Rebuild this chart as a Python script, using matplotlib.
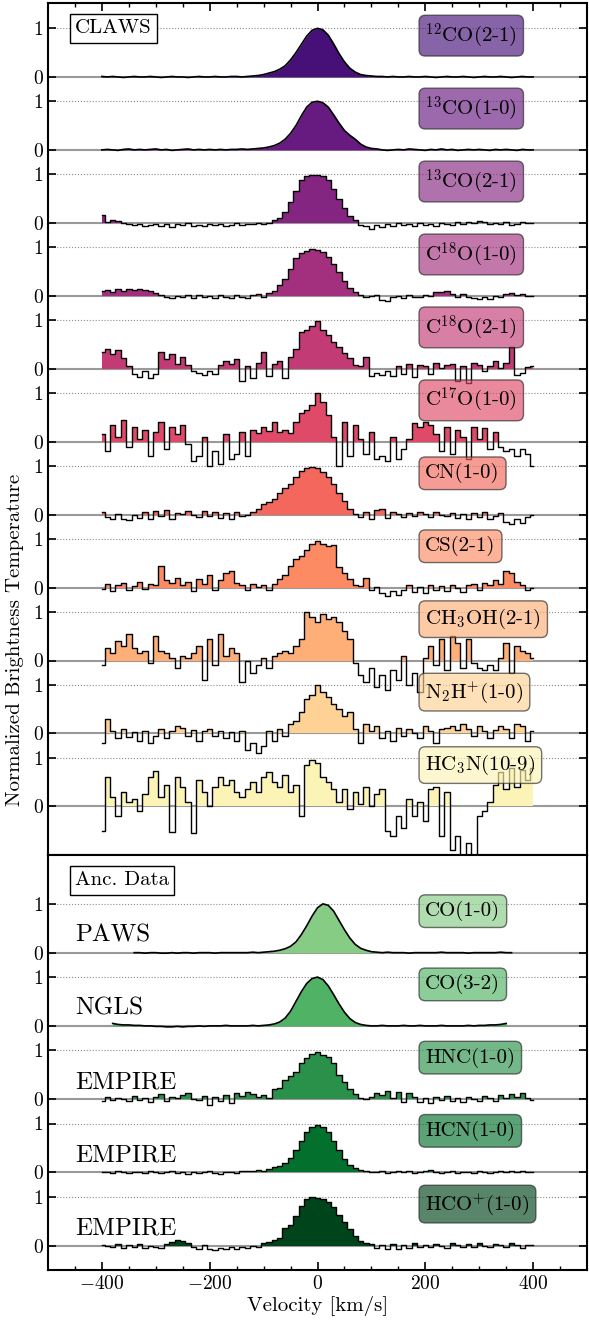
import numpy as np
import matplotlib
matplotlib.use('Agg')
import matplotlib.pyplot as plt

plt.rcParams['font.family'] = 'serif'
plt.rcParams['font.serif'] = ['cmr10']
plt.rcParams['mathtext.fontset'] = 'cm'
plt.rcParams['axes.formatter.use_mathtext'] = True

# ---- data (normalized brightness, 10 km/s channels) ----
vel = np.arange(-400, 401, 10)
vel_paws = np.arange(-340, 361, 10)
vel_ngls = np.arange(-380, 351, 10)

co12_21 = [0.01, 0.00, 0.01, 0.00, -0.01, 0.00, 0.01, 0.00, 0.00, 0.01,
           0.00, -0.01, 0.00, 0.01, 0.00, 0.00, -0.01, 0.00, 0.01, 0.00,
           0.00, 0.01, 0.00, 0.00, 0.01, 0.01, 0.00, 0.01, 0.02, 0.03,
           0.05, 0.08, 0.11, 0.16, 0.23, 0.35, 0.50, 0.67, 0.84, 0.96,
           1.00, 0.97, 0.86, 0.68, 0.48, 0.31, 0.18, 0.10, 0.05, 0.03,
           0.02, 0.01, 0.01, 0.00, 0.01, 0.00, 0.00, 0.01, 0.00, 0.00,
           0.01, 0.00, -0.01, 0.00, 0.01, 0.00, 0.00, 0.01, 0.00, -0.01,
           0.00, 0.01, 0.00, 0.00, 0.01, 0.00, -0.01, 0.00, 0.01, 0.00,
           0.00]
co13_10 = [0.00, 0.01, 0.00, -0.01, 0.01, 0.02, 0.00, 0.01, 0.00, 0.01,
           0.02, 0.00, 0.01, -0.01, 0.00, 0.01, 0.02, 0.00, 0.01, 0.00,
           0.01, 0.00, 0.01, 0.00, 0.01, 0.01, 0.02, 0.01, 0.02, 0.03,
           0.04, 0.06, 0.09, 0.14, 0.22, 0.34, 0.50, 0.70, 0.88, 0.98,
           1.00, 0.97, 0.88, 0.72, 0.55, 0.40, 0.30, 0.22, 0.12, 0.06,
           0.03, 0.02, 0.00, -0.01, 0.00, 0.01, 0.00, 0.02, 0.01, 0.00,
           -0.01, 0.01, 0.00, 0.02, 0.00, 0.01, -0.01, 0.00, 0.01, 0.00,
           0.01, 0.00, -0.01, 0.01, 0.00, 0.01, 0.00, -0.01, 0.01, 0.00,
           0.00]
co13_21 = [0.17, 0.02, 0.06, 0.04, 0.00, -0.02, -0.05, -0.03, -0.07, -0.04,
           -0.02, -0.06, -0.03, -0.08, -0.02, -0.05, -0.01, -0.06, -0.04, -0.07,
           -0.03, -0.05, -0.02, -0.06, -0.04, -0.01, -0.04, -0.02, -0.03, 0.00,
           -0.02, -0.01, 0.05, 0.10, 0.22, 0.42, 0.65, 0.88, 0.97, 0.99,
           0.98, 0.97, 0.88, 0.70, 0.50, 0.30, 0.14, 0.05, -0.04, -0.07,
           -0.12, -0.05, -0.08, -0.02, -0.06, -0.01, -0.05, -0.03, -0.07, 0.00,
           -0.04, -0.02, -0.06, -0.01, -0.03, -0.05, 0.01, -0.02, 0.02, -0.01,
           0.03, 0.01, -0.02, 0.00, -0.03, 0.01, -0.04, -0.02, 0.02, -0.01,
           0.00]
c18o_10 = [0.10, 0.12, 0.08, 0.13, 0.10, 0.15, 0.11, 0.14, 0.12, 0.09,
           0.06, 0.02, -0.02, -0.04, 0.00, -0.03, 0.02, -0.05, 0.01, -0.02,
           0.00, -0.04, 0.02, -0.03, -0.05, 0.01, -0.02, -0.04, 0.02, 0.04,
           -0.03, 0.06, 0.10, 0.22, 0.35, 0.55, 0.78, 0.88, 0.92, 0.97,
           0.95, 0.90, 0.80, 0.66, 0.48, 0.30, 0.16, 0.08, 0.02, -0.03,
           -0.01, 0.02, -0.08, -0.10, -0.03, 0.00, -0.04, 0.01, -0.02, -0.03,
           0.02, 0.00, 0.08, 0.07, 0.09, 0.03, -0.02, 0.04, -0.03, -0.05,
           -0.06, -0.03, -0.07, 0.00, -0.02, 0.03, 0.05, 0.01, 0.03, -0.01,
           0.00]
c18o_21 = [0.35, 0.40, 0.30, 0.38, 0.22, 0.05, -0.10, -0.18, -0.05, -0.20,
           -0.10, 0.35, 0.20, 0.30, 0.10, 0.25, 0.08, -0.05, -0.08, -0.12,
           -0.05, -0.10, 0.08, 0.15, 0.10, 0.20, -0.25, 0.05, -0.20, 0.12,
           0.35, -0.15, 0.10, 0.15, -0.20, 0.25, 0.40, 0.75, 0.80, 0.88,
           0.98, 0.80, 0.70, 0.55, 0.45, 0.32, 0.22, 0.08, 0.05, 0.25,
           -0.15, -0.08, -0.12, -0.05, -0.15, 0.05, -0.10, 0.10, -0.18, 0.08,
           0.05, -0.10, 0.12, 0.02, 0.08, 0.10, -0.25, 0.05, -0.30, 0.12,
           0.08, -0.05, 0.06, 0.15, 0.02, 0.12, 0.45, -0.12, -0.08, 0.03,
           0.05]
c17o_10 = [0.15, -0.20, 0.35, 0.10, 0.45, -0.10, 0.30, 0.05, 0.25, -0.30,
           0.20, 0.40, -0.15, 0.30, 0.15, 0.35, -0.05, -0.40, -0.30, 0.10,
           -0.50, -0.20, -0.45, 0.15, -0.35, -0.25, 0.20, -0.30, 0.25, 0.18,
           0.30, 0.22, 0.40, 0.20, 0.25, 0.18, 0.40, 0.58, 0.65, 0.75,
           1.00, 0.82, 0.55, 0.10, -0.50, 0.40, -0.30, 0.35, 0.05, -0.25,
           0.20, -0.35, -0.30, -0.40, 0.10, -0.35, -0.15, 0.05, 0.38, 0.30,
           0.40, 0.35, 0.15, -0.20, 0.30, -0.25, 0.25, 0.10, -0.35, 0.30,
           0.05, 0.28, -0.15, 0.20, -0.10, -0.20, -0.15, -0.30, -0.15, -0.25,
           -0.50]
cn_10 = [0.05, -0.05, -0.10, 0.02, -0.08, -0.12, 0.00, -0.06, 0.05, -0.10,
         0.08, -0.03, 0.10, -0.08, 0.04, 0.02, 0.08, 0.00, -0.05, 0.07,
         -0.02, 0.05, -0.06, 0.03, -0.10, 0.06, -0.03, 0.00, 0.05, 0.12,
         0.22, 0.25, 0.32, 0.45, 0.55, 0.62, 0.78, 0.90, 0.95, 0.97,
         0.95, 0.88, 0.78, 0.62, 0.45, 0.28, 0.12, 0.02, -0.05, 0.05,
         -0.08, 0.10, 0.12, -0.06, 0.05, 0.02, -0.04, 0.03, -0.02, 0.05,
         0.02, -0.05, 0.06, 0.00, -0.03, 0.04, -0.06, 0.02, -0.08, 0.03,
         -0.05, 0.05, -0.10, -0.02, 0.04, -0.15, -0.20, -0.08, -0.18, -0.05,
         0.00]
cs_21 = [-0.03, 0.08, -0.08, 0.05, 0.10, -0.06, 0.04, 0.12, -0.02, 0.08,
         0.05, 0.45, 0.15, 0.10, 0.20, 0.05, 0.12, -0.08, 0.18, 0.08,
         0.25, -0.05, 0.15, 0.30, 0.35, 0.10, 0.05, -0.05, 0.08, 0.02,
         0.05, -0.05, 0.08, 0.18, 0.25, 0.45, 0.58, 0.65, 0.78, 0.90,
         0.95, 0.90, 0.85, 0.88, 0.42, 0.30, 0.18, 0.06, 0.03, 0.20,
         -0.05, 0.02, -0.12, -0.18, -0.08, -0.15, -0.05, 0.05, -0.10, 0.02,
         -0.12, 0.05, -0.05, 0.03, -0.08, 0.06, 0.00, -0.10, 0.05, 0.08,
         -0.05, 0.10, 0.05, 0.15, 0.08, 0.35, 0.30, 0.12, 0.05, -0.05,
         0.00]
ch3oh_21 = [-0.10, 0.25, 0.15, 0.40, 0.30, 0.55, 0.25, 0.15, 0.20, -0.05,
            0.50, 0.20, 0.15, 0.05, -0.15, 0.10, 0.05, 0.15, 0.30, -0.40,
            0.45, -0.10, 0.55, 0.10, 0.25, 0.15, -0.45, 0.00, -0.25, -0.10,
            0.05, -0.15, 0.10, 0.15, 0.20, 0.15, 0.30, 0.45, 1.00, 0.90,
            0.80, 0.95, 0.85, 0.90, 0.80, 0.60, 0.45, -0.05, -0.30, -0.45,
            -0.15, -0.55, -0.30, -0.60, -0.20, -0.40, 0.10, -0.50, -0.25, -0.65,
            0.05, 0.30, -0.10, 0.45, -0.20, 0.50, 0.35, -0.15, 0.45, -0.05,
            -0.15, -0.20, -0.10, -0.20, 0.05, 0.35, -0.25, 0.30, 0.20, 0.15,
            0.05]
n2hp_10 = [-0.20, 0.30, 0.05, -0.10, 0.10, -0.08, 0.02, -0.15, 0.05, -0.20,
           -0.05, 0.10, -0.10, 0.05, 0.15, 0.12, -0.05, 0.08, -0.15, 0.05,
           0.10, -0.05, 0.05, -0.10, 0.02, -0.15, 0.05, -0.35, -0.20, -0.40,
           -0.25, 0.05, -0.15, 0.10, -0.05, 0.20, 0.25, 0.45, 0.70, 0.80,
           1.00, 0.85, 0.75, 0.60, 0.50, 0.35, 0.45, 0.10, -0.20, 0.20,
           0.05, 0.15, -0.10, 0.05, -0.15, 0.12, -0.05, 0.10, 0.00, -0.10,
           0.15, 0.05, -0.20, 0.10, 0.12, 0.15, 0.08, 0.20, 0.10, -0.05,
           0.15, 0.05, -0.10, 0.08, 0.15, 0.10, -0.10, 0.20, 0.15, -0.15,
           0.05]
hc3n_109 = [-0.50, 0.60, 0.20, -0.20, 0.30, 0.10, 0.15, -0.10, 0.25, 0.60,
            0.72, 0.20, 0.45, -0.52, 0.60, 0.40, 0.10, -0.55, 0.55, 0.30,
            0.00, 0.40, 0.60, 0.45, 0.55, 0.30, 0.20, 0.35, 0.50, 0.30,
            0.60, 0.70, 0.50, 0.40, 0.65, 0.30, 0.45, -0.20, 0.85, 0.95,
            0.90, 0.60, 0.50, 0.35, 0.10, 0.35, -0.05, 0.30, 0.05, 0.40,
            0.00, 0.25, 0.35, -0.50, -0.60, -0.20, -0.45, 0.15, -0.20, 0.10,
            -0.30, 0.35, 0.40, -0.60, 0.30, -0.90, -0.60, -1.10, -0.75, -1.15,
            -0.20, -0.10, 0.10, 0.45, 0.70, 0.35, 0.80, 0.40, 0.75, 0.55,
            0.80]

paws_co10 = [0.00, 0.00, -0.01, 0.00, 0.00, -0.01, -0.01, 0.00, -0.01, 0.00,
             0.00, -0.01, 0.00, 0.00, 0.00, -0.01, 0.00, 0.00, 0.00, 0.00,
             0.00, 0.00, 0.01, 0.00,
             0.01, 0.02, 0.03, 0.05, 0.08, 0.13, 0.22, 0.37, 0.55, 0.75,
             0.92, 1.00, 0.97, 0.85, 0.66, 0.47, 0.30, 0.17, 0.09, 0.05,
             0.02, 0.01,
             0.00, 0.01, 0.00, 0.00, 0.00, -0.01, 0.00, 0.00, 0.00, 0.00,
             0.00, 0.01, 0.00, 0.00, 0.00, 0.00, -0.01, 0.00, 0.00, 0.00,
             0.00, 0.00, 0.01, 0.00, 0.00]
ngls_co32 = [0.05, 0.03, 0.02, 0.02, 0.01, 0.01, 0.00, 0.00, -0.01, -0.01,
             -0.02, -0.02, -0.01, -0.02, -0.01, -0.01, 0.00, -0.01, 0.00, 0.00,
             0.00, 0.01, 0.00, 0.00, 0.00, 0.00, 0.01, 0.00,
             0.01, 0.02, 0.04, 0.08, 0.16, 0.30, 0.50, 0.70, 0.87, 0.97,
             1.00, 0.95, 0.82, 0.64, 0.45, 0.28, 0.15, 0.07, 0.03, 0.01,
             0.00, 0.00, 0.01, 0.00, 0.00, 0.00, 0.01, 0.00, 0.00, 0.01,
             0.00, 0.00, 0.00, 0.01, 0.00, 0.00, 0.00, 0.00, 0.01, 0.00,
             0.01, 0.01, 0.02, 0.02, 0.03, 0.05]
empire_hnc = [-0.03, 0.05, -0.02, 0.03, 0.00, -0.04, 0.06, -0.02, 0.02, -0.05,
              0.04, 0.10, -0.03, 0.05, 0.02, 0.08, 0.12, 0.00, -0.02, 0.06,
              -0.12, 0.05, -0.03, 0.08, -0.08, 0.12, 0.06, 0.15, 0.10, 0.05,
              0.08, 0.03, 0.20, 0.22, 0.40, 0.48, 0.55, 0.75, 0.85, 0.93,
              0.97, 0.90, 0.86, 0.75, 0.50, 0.35, 0.20, 0.10, 0.03, 0.00,
              0.05, 0.12, 0.08, 0.16, 0.02, 0.15, -0.05, 0.12, 0.04, -0.06,
              0.03, -0.08, 0.04, -0.02, 0.06, -0.04, 0.02, -0.06, 0.05, 0.00,
              -0.03, 0.06, 0.02, -0.04, 0.08, 0.03, 0.10, 0.05, 0.12, 0.02,
              -0.02]
empire_hcn = [0.00, 0.01, -0.01, 0.02, 0.00, -0.02, 0.01, 0.00, -0.01, 0.02,
              0.00, -0.02, 0.01, 0.03, -0.01, 0.00, -0.03, 0.01, -0.02, 0.00,
              0.02, -0.01, -0.03, 0.00, 0.01, -0.02, 0.02, 0.03, 0.02, 0.04,
              0.03, 0.06, 0.10, 0.14, 0.20, 0.30, 0.45, 0.65, 0.83, 0.93,
              0.97, 0.93, 0.82, 0.64, 0.45, 0.28, 0.15, 0.08, 0.04, 0.02,
              0.01, 0.00, 0.02, -0.01, 0.01, 0.02, 0.00, 0.03, -0.01, 0.00,
              0.02, 0.04, 0.01, -0.01, 0.00, 0.02, -0.02, 0.01, 0.00, -0.01,
              0.02, 0.00, -0.02, 0.01, 0.03, 0.00, 0.02, 0.01, 0.03, 0.01,
              0.00]
empire_hcop = [0.01, 0.00, -0.03, 0.03, -0.05, 0.02, -0.02, 0.04, -0.04, 0.00,
               -0.02, -0.05, 0.03, 0.08, 0.11, 0.10, 0.06, -0.03, -0.08, 0.02,
               -0.06, -0.10, -0.04, -0.08, -0.03, -0.06, -0.02, -0.05, 0.00, -0.03,
               0.05, 0.08, 0.12, 0.16, 0.35, 0.42, 0.60, 0.82, 0.95, 1.00,
               0.98, 0.96, 0.90, 0.78, 0.62, 0.48, 0.33, 0.20, 0.10, 0.06,
               0.04, -0.05, 0.02, -0.08, 0.03, -0.06, 0.01, -0.04, 0.05, -0.02,
               0.02, -0.03, 0.04, 0.00, -0.04, 0.06, 0.01, -0.02, 0.03, -0.03,
               0.05, 0.00, -0.03, 0.04, 0.02, -0.02, 0.06, 0.01, -0.04, 0.02,
               0.02]

claws_spectra = [co12_21, co13_10, co13_21, c18o_10, c18o_21, c17o_10,
                 cn_10, cs_21, ch3oh_21, n2hp_10, hc3n_109]
claws_labels = [r'$^{12}$CO(2-1)', r'$^{13}$CO(1-0)', r'$^{13}$CO(2-1)',
                r'C$^{18}$O(1-0)', r'C$^{18}$O(2-1)', r'C$^{17}$O(1-0)',
                'CN(1-0)', 'CS(2-1)', r'CH$_3$OH(2-1)', r'N$_2$H$^{+}$(1-0)',
                r'HC$_3$N(10-9)']
claws_smooth = [True, True] + [False] * 9
anc_spectra = [paws_co10, ngls_co32, empire_hnc, empire_hcn, empire_hcop]
anc_vel = [vel_paws, vel_ngls, vel, vel, vel]
anc_labels = ['CO(1-0)', 'CO(3-2)', 'HNC(1-0)', 'HCN(1-0)', r'HCO$^{+}$(1-0)']
anc_surveys = ['PAWS', 'NGLS', 'EMPIRE', 'EMPIRE', 'EMPIRE']
anc_smooth = [True, True, False, False, False]

STEP = 1.5
FS = 15


def draw_spec(ax, v, spec, off, color, label, smooth):
    spec = np.asarray(spec)
    st = None if smooth else 'mid'
    ax.axhline(off, color='0.6', lw=1.5, zorder=1)
    ax.axhline(off + 1, color='0.55', lw=0.8, ls=':', zorder=1)
    ax.fill_between(v, off, off + np.clip(spec, 0, None), step=st,
                    color=color, lw=0, zorder=2)
    if smooth:
        ax.plot(v, off + spec, color='k', lw=1.2, zorder=3)
    else:
        ax.step(v, off + spec, where='mid', color='k', lw=1.0, zorder=3)
    ax.text(200, off + 0.85, label, fontsize=FS, ha='left', va='center', zorder=5,
            bbox=dict(boxstyle='round,pad=0.3', fc=color, ec='0.15', alpha=0.65))


def style_axis(ax, offsets, top):
    ticks, labels = [], []
    for off in offsets:
        ticks += [off, off + 1]
        labels += ['0', '1']
    ax.set_yticks(ticks)
    ax.set_yticklabels(labels)
    ax.set_xlim(-500, 500)
    ax.set_xticks([-400, -200, 0, 200, 400])
    ax.set_xticks(np.arange(-450, 500, 50), minor=True)
    ax.tick_params(which='major', direction='in', length=6, width=1.2,
                   labelsize=14, right=True, top=top, bottom=not top,
                   labelbottom=not top)
    ax.tick_params(which='minor', direction='in', length=3, width=1,
                   top=top, bottom=not top)
    ax.tick_params(axis='y', which='minor', left=False, right=False)
    for s in ax.spines.values():
        s.set_linewidth(1.5)


fig = plt.figure(figsize=(5.89, 13.24), dpi=100)
ax1 = fig.add_axes([0.0815, 0.3542, 0.9151, 0.6435])
ax2 = fig.add_axes([0.0815, 0.0408, 0.9151, 0.3134])

claws_colors = plt.cm.magma(np.linspace(0.23, 0.98, len(claws_spectra)))
claws_offsets = [-STEP * i for i in range(len(claws_spectra))]
for spec, lab, c, off, sm in zip(claws_spectra, claws_labels, claws_colors,
                                 claws_offsets, claws_smooth):
    draw_spec(ax1, vel, spec, off, c, lab, sm)
ax1.set_ylim(-16.0, 1.52)
style_axis(ax1, claws_offsets, True)
ax1.text(-450, 1.0, 'CLAWS', fontsize=FS, ha='left', va='center', zorder=6,
         bbox=dict(boxstyle='square,pad=0.25', fc='white', ec='k', lw=1))

anc_colors = plt.cm.Greens(np.linspace(0.45, 1.0, len(anc_spectra)))
anc_offsets = [-STEP * i for i in range(len(anc_spectra))]
for v, spec, lab, c, off, sv, sm in zip(anc_vel, anc_spectra, anc_labels, anc_colors,
                                         anc_offsets, anc_surveys, anc_smooth):
    draw_spec(ax2, v, spec, off, c, lab, sm)
    ax2.text(-450, off + 0.35, sv, fontsize=18, ha='left', va='center')
ax2.set_ylim(-6.5, 2.0)
style_axis(ax2, anc_offsets, False)
ax2.text(-450, 1.48, 'Anc. Data', fontsize=FS, ha='left', va='center', zorder=6,
         bbox=dict(boxstyle='square,pad=0.25', fc='white', ec='k', lw=1))
ax2.set_xlabel('Velocity [km/s]', fontsize=FS, labelpad=2)

fig.text(0.025, 0.517, 'Normalized Brightness Temperature', fontsize=FS,
         rotation=90, ha='center', va='center')

fig.savefig('out.png', dpi=100)
